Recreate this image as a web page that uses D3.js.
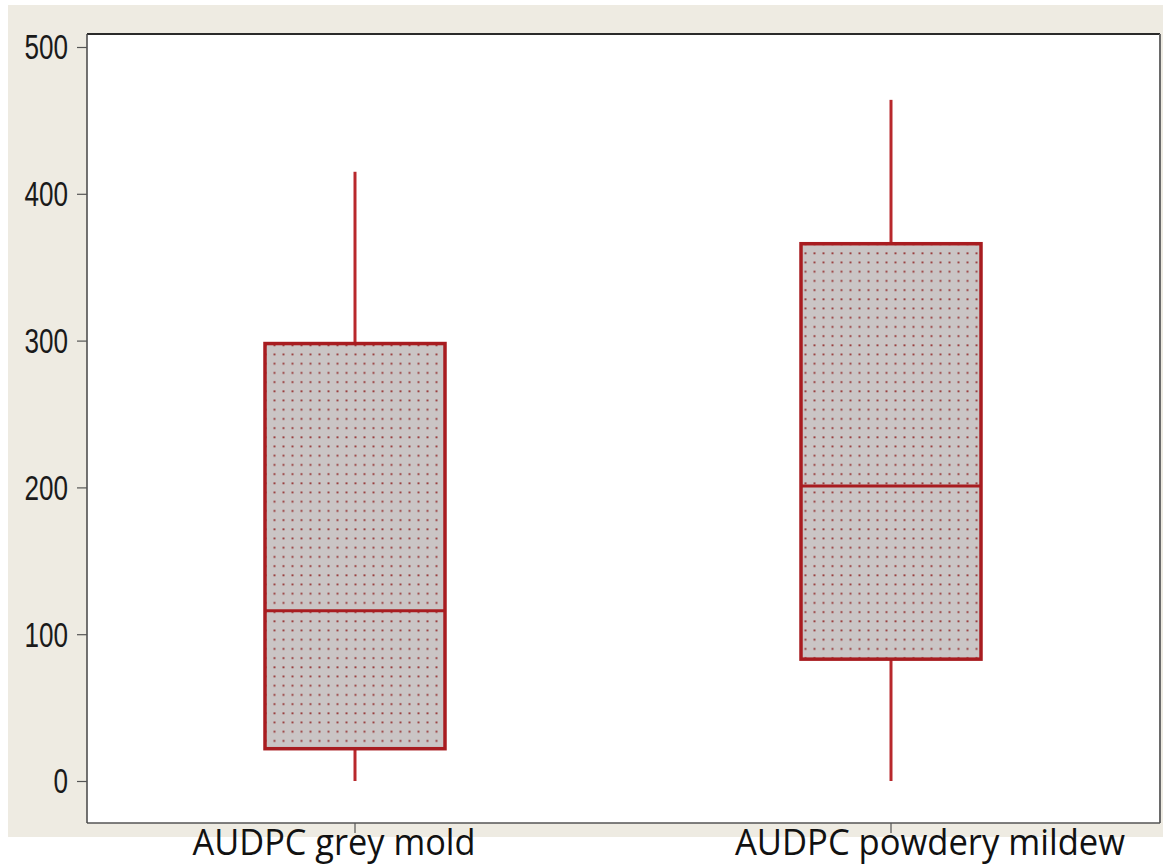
<!DOCTYPE html>
<html><head><meta charset="utf-8">
<script src="https://cdn.jsdelivr.net/npm/d3@7/dist/d3.min.js"></script>
<style>body{margin:0;background:#fff}svg{display:block}</style>
</head><body>
<svg id="c" width="1168" height="866"></svg>
<script>
const categories = ["AUDPC grey mold", "AUDPC powdery mildew"];
const whiskerLow = [0, 0];
const q1 = [22, 83];
const median = [116, 201];
const q3 = [298, 366];
const whiskerHigh = [415, 464];
const yTicks = [0, 100, 200, 300, 400, 500];

const svg = d3.select("#c");
const defs = svg.append("defs");
const pat = defs.append("pattern").attr("id","dots").attr("patternUnits","userSpaceOnUse")
  .attr("width",9).attr("height",9.2);
pat.append("rect").attr("width",9).attr("height",9.2).attr("fill","#cac5c5");
pat.append("rect").attr("x",3.5).attr("y",4).attr("width",2).attr("height",1.8).attr("fill","#983c3c");

// beige panel
svg.append("rect").attr("x",8).attr("y",5).attr("width",1155).attr("height",832).attr("fill","#eeebe2");

const L=87, R=1160, T=34, B=823;
svg.append("rect").attr("x",L).attr("y",T).attr("width",R-L).attr("height",B-T).attr("fill","#fff");

const y = d3.scaleLinear().domain([0,500]).range([781,47]);
const x = d3.scalePoint().domain(categories).range([355,891]);

// frame
svg.append("line").attr("x1",L).attr("x2",R).attr("y1",T).attr("y2",T).attr("stroke","#2a2a2a").attr("stroke-width",2);
svg.append("line").attr("x1",R).attr("x2",R).attr("y1",T).attr("y2",B).attr("stroke","#6a6a6a").attr("stroke-width",2);
svg.append("line").attr("x1",L).attr("x2",R).attr("y1",B).attr("y2",B).attr("stroke","#555").attr("stroke-width",1.5);

// y axis
const ya = svg.append("g").attr("transform",`translate(${L},0)`)
  .call(d3.axisLeft(y).tickValues(yTicks).tickSize(10).tickPadding(9).tickFormat(d3.format("d")));
ya.select(".domain").attr("stroke","#444").attr("stroke-width",1.5).attr("d",`M0,${T}V${B}`);
ya.selectAll(".tick line").attr("stroke","#555").attr("stroke-width",1.2);
ya.selectAll(".tick text").attr("font-family","'Liberation Sans', Arial, sans-serif")
  .attr("font-size",35).attr("fill","#1a1a1a").attr("dy","0.34em")
  .attr("textLength", d => String(d).length*14.5).attr("lengthAdjust","spacingAndGlyphs");

// x ticks
svg.append("g").selectAll("line").data(categories).join("line")
  .attr("x1",d=>x(d)).attr("x2",d=>x(d)).attr("y1",B).attr("y2",B+10)
  .attr("stroke","#555").attr("stroke-width",1.2);

// x labels (positioned as in the reference)
const labelCenters = [334, 930];
const labelWidths = [283, 390];
svg.append("g").selectAll("text").data(categories).join("text")
  .attr("x",(d,i)=>labelCenters[i]-labelWidths[i]/2).attr("y",855)
  .attr("font-family","'Open Sans', sans-serif").attr("font-size",36).attr("font-weight",500).attr("fill","#111")
  .attr("textLength",(d,i)=>labelWidths[i]).attr("lengthAdjust","spacingAndGlyphs")
  .text(d=>d);

const bw = 180;
const g = svg.append("g");
categories.forEach((c,i)=>{
  const cx = x(c);
  g.append("line").attr("x1",cx).attr("x2",cx).attr("y1",y(q3[i])).attr("y2",y(whiskerHigh[i]))
    .attr("stroke","#b8282c").attr("stroke-width",3);
  g.append("line").attr("x1",cx).attr("x2",cx).attr("y1",y(whiskerLow[i])).attr("y2",y(q1[i]))
    .attr("stroke","#b8282c").attr("stroke-width",3);
  g.append("rect").attr("x",cx-bw/2).attr("y",y(q3[i])).attr("width",bw).attr("height",y(q1[i])-y(q3[i]))
    .attr("fill","url(#dots)").attr("stroke","#a81c20").attr("stroke-width",3.5);
  g.append("line").attr("x1",cx-bw/2).attr("x2",cx+bw/2).attr("y1",y(median[i])).attr("y2",y(median[i]))
    .attr("stroke","#a81c20").attr("stroke-width",3);
});
</script>
</body></html>
